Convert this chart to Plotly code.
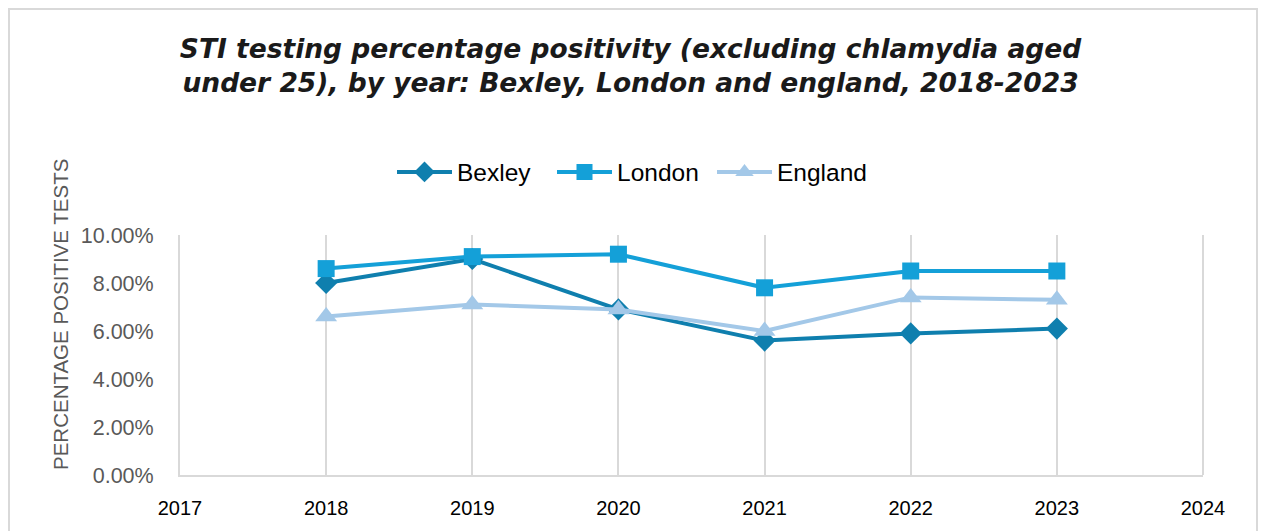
import plotly.graph_objects as go

years = [2018, 2019, 2020, 2021, 2022, 2023]
bexley = [0.080, 0.090, 0.069, 0.056, 0.059, 0.061]
london = [0.086, 0.091, 0.092, 0.078, 0.085, 0.085]
england = [0.066, 0.071, 0.069, 0.060, 0.074, 0.073]

W, H = 1261, 531
L, R, T, B = 180, 58, 235, 56
pw, ph = W - L - R, H - T - B


def px_x(p):
    return (p - L) / pw


def px_y(p):
    return (H - B - p) / ph


fig = go.Figure()
series = [
    ("Bexley", bexley, "#0f7fae", "diamond", 17),
    ("London", london, "#14a0d8", "square", 17),
    ("England", england, "#a3c8e8", "triangle-up", 19),
]
for name, vals, col, sym, sz in series:
    fig.add_trace(go.Scatter(
        x=years, y=vals, name=name, mode="lines+markers",
        line=dict(color=col, width=4),
        marker=dict(symbol=sym, size=sz, color=col),
    ))

fig.update_layout(
    width=W, height=H,
    margin=dict(l=L, r=R, t=T, b=B),
    paper_bgcolor="white", plot_bgcolor="white",
    showlegend=True,
    title=dict(
        text="STI testing percentage positivity (excluding chlamydia aged<br>under 25), by year: Bexley, London and england, 2018-2023",
        x=0.5, xanchor="center", xref="container",
        y=1 - 58 / H, yanchor="middle", yref="container",
        font=dict(family="DejaVu Sans", size=26.5, color="#1a1a1a",
                  weight="bold", style="italic"),
    ),
    legend=dict(
        orientation="h", x=px_x(392), xanchor="left",
        y=px_y(172), yanchor="middle",
        font=dict(family="Liberation Sans", size=24.5, color="#000000"),
        itemwidth=55, entrywidth=90, entrywidthmode="pixels",
        bgcolor="rgba(0,0,0,0)",
    ),
    xaxis=dict(
        range=[2017, 2024], tickmode="linear", tick0=2017, dtick=1,
        showgrid=True, gridcolor="#d9d9d9", gridwidth=2,
        showline=True, linecolor="#d9d9d9", linewidth=2,
        zeroline=False, ticks="", ticklabelstandoff=14,
        tickfont=dict(family="Liberation Sans", size=20, color="#000000"),
    ),
    yaxis=dict(
        range=[0, 0.10], tickmode="linear", tick0=0, dtick=0.02,
        tickformat=".2%", showgrid=False,
        showline=True, linecolor="#d9d9d9", linewidth=2, mirror=False,
        zeroline=False, ticks="", ticklabelstandoff=20,
        tickfont=dict(family="Liberation Sans", size=21.5, color="#595959"),
    ),
)

# right-hand boundary line of the plot area at 2024
fig.add_shape(type="line", xref="paper", yref="paper",
              x0=1, x1=1, y0=0, y1=1,
              line=dict(color="#d9d9d9", width=2), layer="below")

# outer chart frame
fig.add_shape(type="rect", xref="paper", yref="paper",
              x0=px_x(9), x1=px_x(1257), y0=px_y(560), y1=px_y(9),
              line=dict(color="#d9d9d9", width=2), fillcolor="rgba(0,0,0,0)")

# y-axis title
fig.add_annotation(
    text="PERCENTAGE POSITIVE TESTS", textangle=-90,
    xref="paper", yref="paper", x=px_x(60), y=px_y(315),
    xanchor="center", yanchor="middle", showarrow=False,
    font=dict(family="Liberation Sans", size=20.5, color="#595959"),
)

fig.write_html("out.html")
